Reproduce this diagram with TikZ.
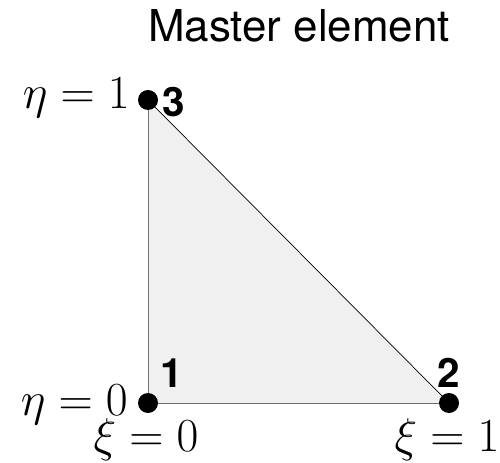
\RequirePackage{fix-cm}
\documentclass[tikz,border=0pt]{standalone}
\usepackage{fontspec}
\setsansfont{TeX Gyre Heros}
\usepackage{xcolor}
\usepackage{tikz}
\usetikzlibrary{positioning,calc}

\definecolor{elemfill}{RGB}{240,240,240}
\definecolor{elemedge}{RGB}{110,110,110}

\tikzset{
  vertexdot/.style={circle, fill=black, inner sep=0pt, minimum size=0.4cm},
  vertexnum/.style={font=\fontsize{23}{27}\sffamily\bfseries, inner sep=0pt},
  coordlabel/.style={font=\fontsize{27}{32}\selectfont, inner sep=0pt}
}

\begin{document}
\begin{tikzpicture}
\useasboundingbox (0,0) rectangle (10,9.24);

% Vertices of the master triangle
\coordinate (p1) at (2.96,1.18);
\coordinate (p2) at (8.98,1.18);
\coordinate (p3) at (2.96,7.24);

% Element
\fill[elemfill] (p1) -- (p2) -- (p3) -- cycle;
\draw[elemedge] (p2) -- (p1) -- (p3);
\draw[black] (p2) -- (p3);

% Nodes
\node[vertexdot] (n1) at (p1) {};
\node[vertexdot] (n2) at (p2) {};
\node[vertexdot] (n3) at (p3) {};

\node[vertexnum] (l1) at (3.44,1.78) {1};
\node[vertexnum] (l2) at (8.98,1.78) {2};
\node[vertexnum] (l3) at (3.48,7.20) {3};

% Coordinate values
\node[coordlabel, anchor=base east] (eta1) at (2.60,7.06) {$\eta=1$};
\node[coordlabel, anchor=base east] (eta0) at (2.56,0.94) {$\eta=0$};
\node[coordlabel, anchor=north] (xi0) at (2.92,0.88) {$\xi=0$};
\node[coordlabel, anchor=north] (xi1) at (8.94,0.88) {$\xi=1$};

% Title
\node[font=\fontsize{25}{30}\sffamily, anchor=base] (title) at (5.98,8.40) {Master element};
\end{tikzpicture}
\end{document}
